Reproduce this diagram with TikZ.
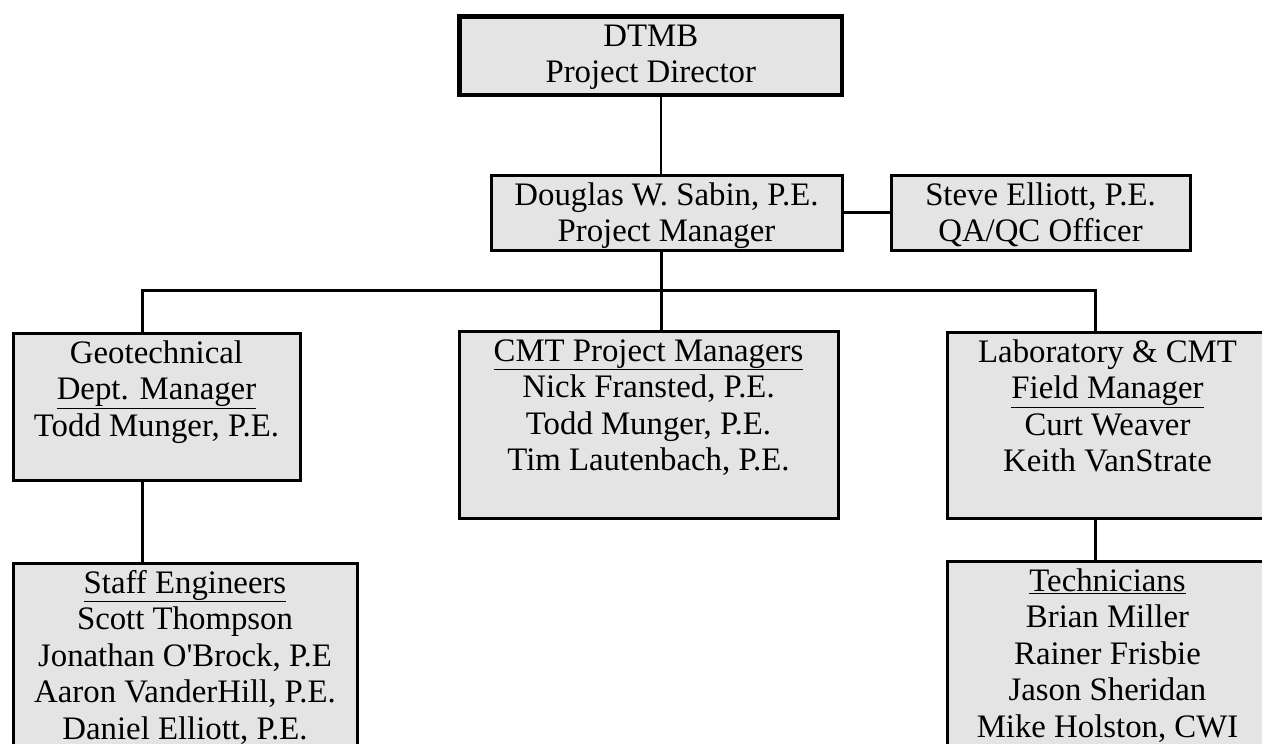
\documentclass[tikz,border=0pt]{standalone}
\usepackage{fontspec}
\setmainfont{Liberation Serif}[Ligatures=TeXOff]
\usepackage{tikz}

\definecolor{boxgray}{RGB}{228,228,228}
% text block of a box: width, height, lines (top aligned)
\newcommand{\boxtext}[3]{\parbox[c][#2][t]{#1}{\centering\rule{0pt}{30pt}#3}}

\begin{document}
\begin{tikzpicture}[x=1pt, y=-1pt,
  every box/.style={draw, line width=3pt, fill=boxgray, inner sep=0pt,
    anchor=north west, font=\fontsize{32.8}{36.5}\selectfont},
  link/.style={line width=3pt}]
\useasboundingbox (0,0) rectangle (1262,744);
\clip (0,0) rectangle (1262,744);

% junctions on the bus
\coordinate (trunk) at (661,290);
\coordinate (busL) at (142,290);
\coordinate (busR) at (1095,290);

\node [every box, line width=4.5pt] (director) at (457.25,14.25)
  {\boxtext{382.5pt}{78.5pt}{DTMB\\ Project Director}};
\node [every box] (manager) at (489.5,173.5)
  {\boxtext{351pt}{75pt}{Douglas W. Sabin, P.E.\\ Project Manager}};
\node [every box] (qaqc) at (889.5,173.5)
  {\boxtext{299pt}{75pt}{Steve Elliott, P.E.\\ QA/QC Officer}};

\node [every box] (geo) at (11.5,331.5)
  {\boxtext{287pt}{147pt}{Geotechnical\\ \underline{Dept. Manager}\\ Todd Munger, P.E.}};
\node [every box] (cmt) at (457.5,329.5)
  {\boxtext{379pt}{187pt}{\underline{CMT Project Managers}\\ Nick Fransted, P.E.\\
    Todd Munger, P.E.\\ Tim Lautenbach, P.E.}};
\node [every box] (lab) at (945.5,330.5)
  {\boxtext{321pt}{186pt}{Laboratory \& CMT\\ \underline{Field Manager}\\
    Curt Weaver\\ Keith VanStrate}};

\node [every box] (staff) at (11.5,561.5)
  {\boxtext{344pt}{200pt}{\underline{Staff Engineers}\\ Scott Thompson\\
    Jonathan O'Brock, P.E\\ Aaron VanderHill, P.E.\\ Daniel Elliott, P.E.}};
\node [every box] (tech) at (945.5,559.5)
  {\boxtext{321pt}{200pt}{\underline{Technicians}\\ Brian Miller\\
    Rainer Frisbie\\ Jason Sheridan\\ Mike Holston, CWI}};

\draw [line width=2.5pt] (director.south -| trunk) -- (manager.north -| trunk);
\draw [link] (manager.east) -- (qaqc.west);
\draw [link] (manager.south -| trunk) -- (cmt.north -| trunk);
\draw [link] (geo.north -| busL) -- (busL) -- (busR) -- (lab.north -| busR);
\draw [link] (geo.south -| busL) -- (staff.north -| busL);
\draw [link] (lab.south -| busR) -- (tech.north -| busR);
\end{tikzpicture}
\end{document}
